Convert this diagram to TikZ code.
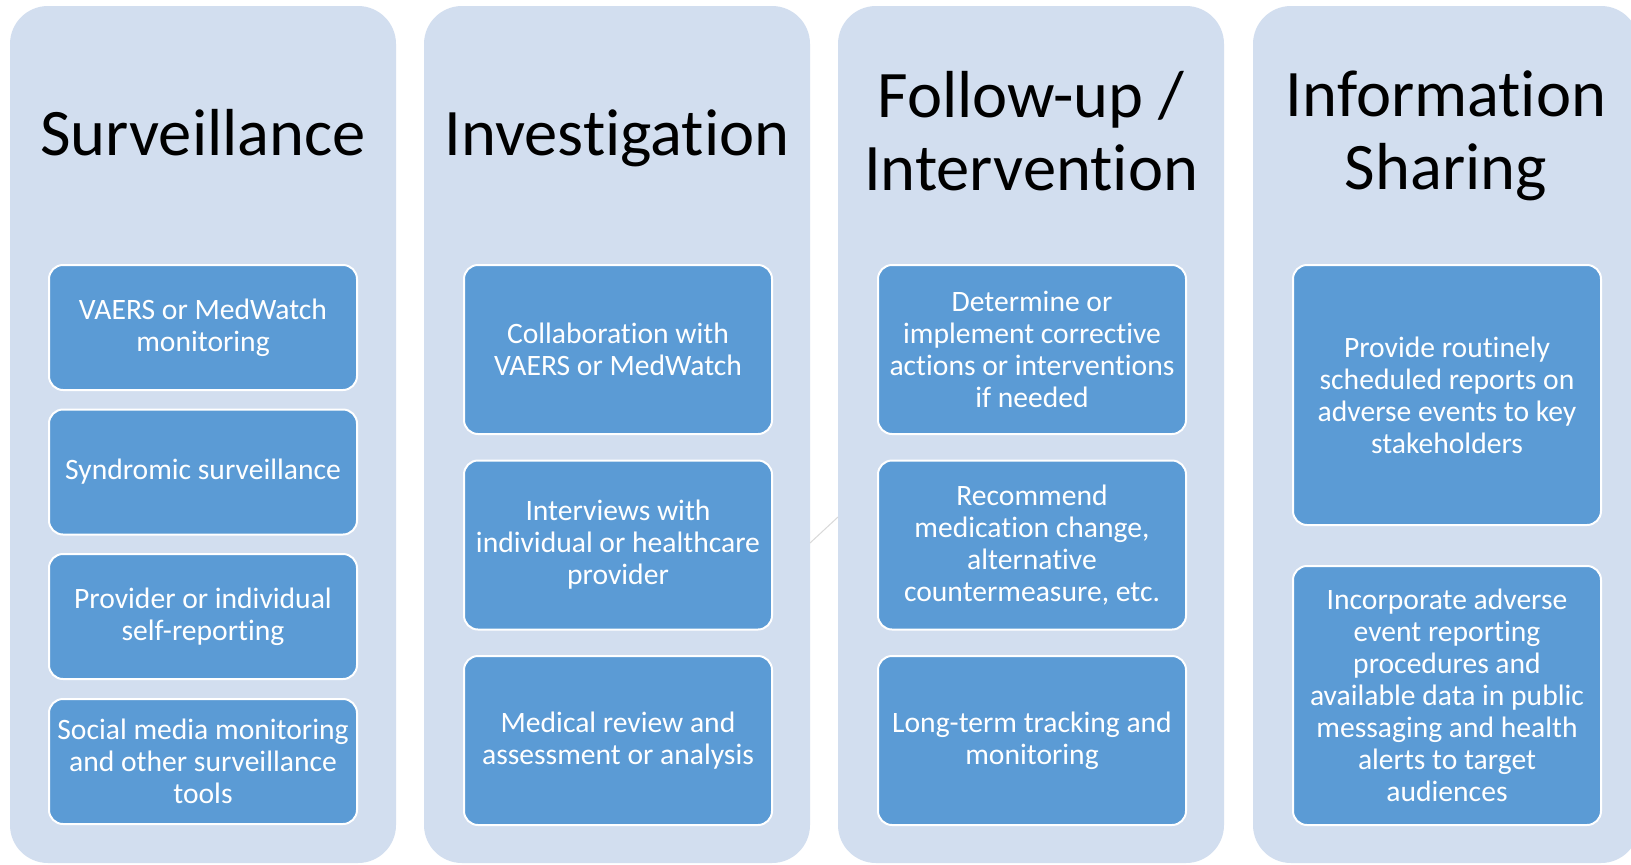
\documentclass[tikz,border=0pt]{standalone}
\usepackage{fontspec}
\setmainfont{Carlito}[Ligatures=NoCommon]
\definecolor{colfill}{HTML}{D2DEEF}
\definecolor{boxfill}{HTML}{5B9BD5}
\begin{document}
\begin{tikzpicture}[x=1pt,y=-1pt,
  column/.style={fill=colfill,rounded corners=38pt},
  title/.style={font=\fontsize{66.5}{73}\selectfont,align=center,text=black,inner sep=0pt},
  item/.style={draw=white,line width=2pt,fill=boxfill,rounded corners=14pt,text=white,
    font=\fontsize{29.6}{32}\selectfont,align=center,minimum width=308pt,inner sep=0pt},
  faint/.style={draw=black!15,line width=1pt}]
\useasboundingbox (0,0) rectangle (1631,865);
\clip (0,0) rectangle (1631,865);
\fill[white] (0,0) rectangle (1631,865);
% columns
\path[column] (10,6) rectangle (396,863);
\path[column] (424,6) rectangle (810,863);
\path[column] (838,6) rectangle (1224,863);
\path[column] (1253,6) rectangle (1639,863);
\coordinate (c2r) at (810,543);
\coordinate (c3l) at (838,517);
\draw[faint] (c2r) -- (c3l);
% titles
\node[title,anchor=base] (t1) at (203,155) {Surveillance};
\node[title,anchor=base] (t2) at (617,155) {Investigation};
\node[title] (t3) at (1031,131) {Follow-up /\\Intervention};
\node[title] (t4) at (1446,136) {Information\\Sharing};
% column 1
\node[item,minimum height=125pt] (a1) at (203,327.5) {VAERS or MedWatch\\monitoring};
\node[item,minimum height=125pt] (a2) at (203,472) {Syndromic surveillance};
\node[item,minimum height=125pt] (a3) at (203,616.5) {Provider or individual\\self-reporting};
\node[item,minimum height=125pt] (a4) at (203,761.5) {Social media monitoring\\and other surveillance\\tools};
% column 2
\node[item,minimum height=169pt] (b1) at (618,349.5) {Collaboration with\\VAERS or MedWatch};
\node[item,minimum height=169pt] (b2) at (618,545) {Interviews with\\individual or healthcare\\provider};
\node[item,minimum height=169pt] (b3) at (618,740.5) {Medical review and\\assessment or analysis};
% column 3
\node[item,minimum height=169pt] (c1) at (1032,349.5) {Determine or\\implement corrective\\actions or interventions\\if needed};
\node[item,minimum height=169pt] (c2) at (1032,545) {Recommend\\medication change,\\alternative\\countermeasure, etc.};
\node[item,minimum height=169pt] (c3) at (1032,740.5) {Long-term tracking and\\monitoring};
% column 4
\node[item,minimum height=260pt] (d1) at (1447,395) {Provide routinely\\scheduled reports on\\adverse events to key\\stakeholders};
\node[item,minimum height=259pt] (d2) at (1447,695.5) {Incorporate adverse\\event reporting\\procedures and\\available data in public\\messaging and health\\alerts to target\\audiences};
\end{tikzpicture}
\end{document}
